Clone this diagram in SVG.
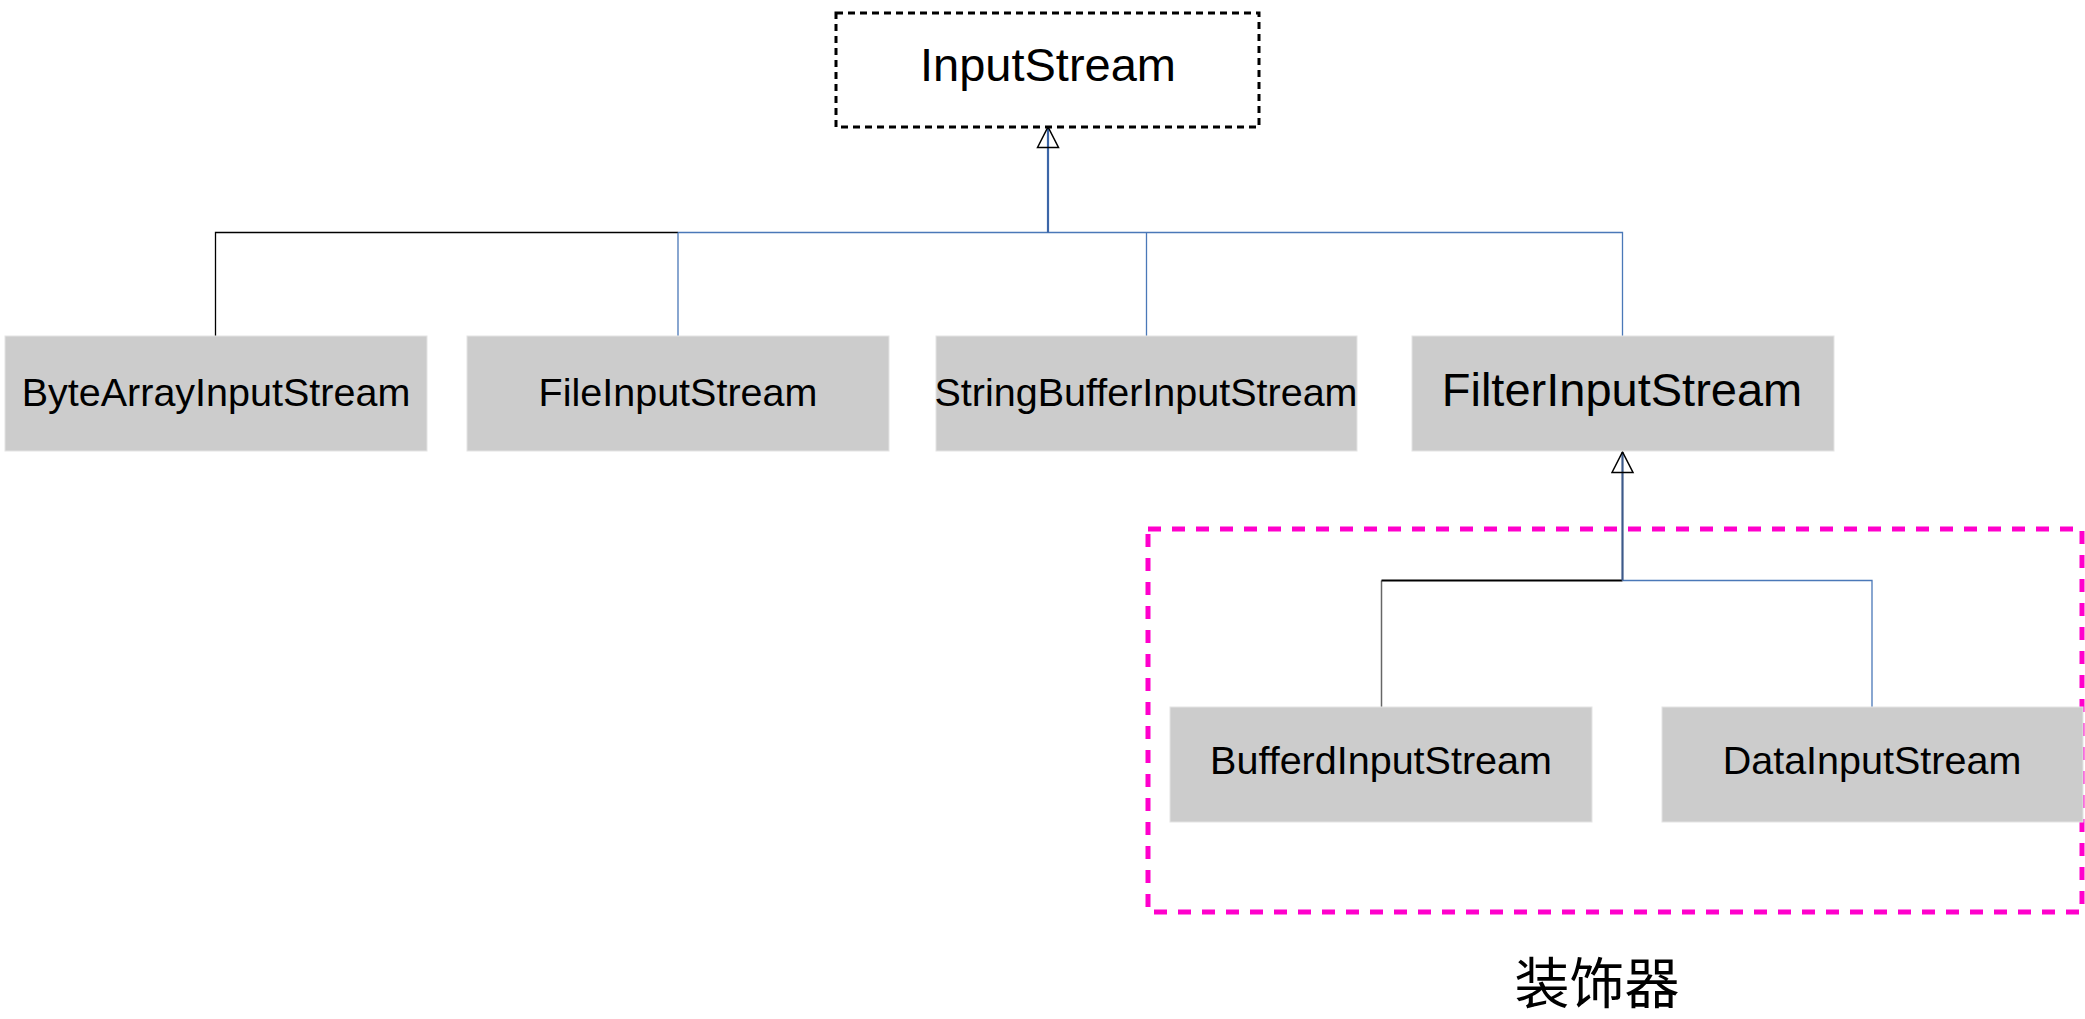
<svg xmlns="http://www.w3.org/2000/svg" width="2085" height="1019" viewBox="0 0 2085 1019">
<style>
.box{fill:#cccccc;stroke:#e4e4e4;stroke-width:1}
.lbl{font-family:"Liberation Sans",Arial,sans-serif;font-size:39.5px;fill:#000;text-anchor:middle}
.big{font-size:47px}
.blk{fill:none;stroke:#000;stroke-width:1.3}
.blu{fill:none;stroke:#4a78b8;stroke-width:1.3}
.stem{fill:none;stroke:#3c66a8;stroke-width:2.2}
</style>
<defs>
<marker id="tri" markerUnits="userSpaceOnUse" markerWidth="24" markerHeight="24" viewBox="0 0 24 24" refX="22" refY="12" orient="auto">
<path d="M1.5,1.5 L22,12 L1.5,22.5 Z" fill="none" stroke="#000" stroke-width="1.5"/>
</marker>
</defs>
<rect width="2085" height="1019" fill="#fff"/>

<g id="decorator-group">
<rect x="1148" y="529" width="934" height="383" fill="none" stroke="#ff00cc" stroke-width="5" stroke-dasharray="13 11"/>
<text x="1597" y="1003" style="font-family:'Noto Sans CJK SC','Noto Sans CJK TC',sans-serif;font-size:55px;fill:#000;text-anchor:middle">装饰器</text>
</g>

<g id="connectors">
<path class="blk" d="M215.5,336 V232.5 H678"/>
<path class="blu" d="M678,232.5 H1622.5 V336 M678,232.5 V336 M1146.5,232.5 V336"/>
<path class="stem" d="M1048,232.5 V127" marker-end="url(#tri)"/>
<path fill="none" stroke="#666" stroke-width="1.5" d="M1381.5,707 V580.5"/>
<path fill="none" stroke="#000" stroke-width="2" d="M1381.5,580.5 H1622.5"/>
<path class="blu" d="M1622.5,580.5 H1872 V707"/>
<path class="stem" style="stroke:#3d5a8a" d="M1622.5,580.5 V452" marker-end="url(#tri)"/>
</g>

<g id="InputStream">
<rect x="836" y="13" width="423" height="114" fill="#fff" stroke="#000" stroke-width="3" stroke-dasharray="7 5"/>
<text class="lbl big" x="1048" y="81">InputStream</text>
</g>

<g id="ByteArrayInputStream">
<rect class="box" x="5" y="336" width="422" height="115"/>
<text class="lbl" x="216" y="406">ByteArrayInputStream</text>
</g>

<g id="FileInputStream">
<rect class="box" x="467" y="336" width="422" height="115"/>
<text class="lbl" x="678" y="406">FileInputStream</text>
</g>

<g id="StringBufferInputStream">
<rect class="box" x="936" y="336" width="421" height="115"/>
<text class="lbl" x="1146" y="406">StringBufferInputStream</text>
</g>

<g id="FilterInputStream">
<rect class="box" x="1412" y="336" width="422" height="115"/>
<text class="lbl big" x="1622" y="406">FilterInputStream</text>
</g>

<g id="BufferdInputStream">
<rect class="box" x="1170" y="707" width="422" height="115"/>
<text class="lbl" x="1381" y="774">BufferdInputStream</text>
</g>

<g id="DataInputStream">
<rect class="box" x="1662" y="707" width="421" height="115"/>
<text class="lbl" x="1872" y="774">DataInputStream</text>
</g>
</svg>
